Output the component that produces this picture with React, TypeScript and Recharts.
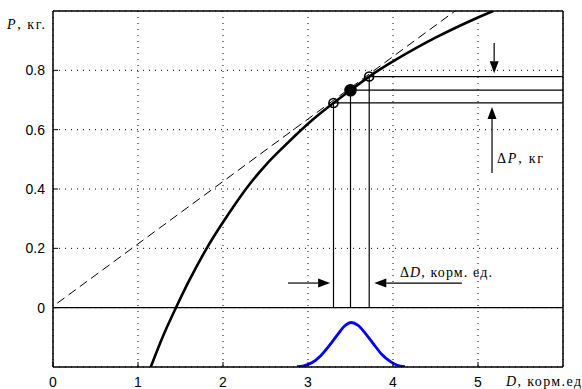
import React from 'react';
import { ComposedChart, Line, XAxis, YAxis, CartesianGrid, ReferenceLine, ReferenceDot } from 'recharts';

// Main productivity curve P(D)
const curveD = [1.15, 1.3, 1.447, 1.6, 1.808, 2.0, 2.27, 2.5, 2.67, 3.0, 3.3, 3.5, 3.72, 4.0, 4.5, 5.0, 5.18];
const curveP = [-0.2, -0.092, 0, 0.09, 0.2, 0.288, 0.4, 0.48, 0.53, 0.62, 0.69, 0.733, 0.779, 0.83, 0.91, 0.978, 1.0];

// Dashed straight line
const dashD = [0.05, 4.73];
const dashP = [0.015, 1.0];

// Blue distribution curve
const pdfD = [2.87, 2.95, 3.05, 3.15, 3.25, 3.35, 3.43, 3.51, 3.59, 3.67, 3.77, 3.87, 3.97, 4.05, 4.14];
const pdfP = [-0.199, -0.196, -0.185, -0.162, -0.128, -0.09, -0.062, -0.05, -0.06, -0.085, -0.122, -0.158, -0.182, -0.194, -0.199];

// Marked points
const markD = [3.3, 3.5, 3.72];
const markP = [0.69, 0.733, 0.779];
const markFilled = [false, true, false];

const xTicks = [0, 1, 2, 3, 4, 5];
const yTicks = [0, 0.2, 0.4, 0.6, 0.8];
const xDomain = [0, 6];
const yDomain = [-0.2, 1];

// Arrows: from (D,P) to (D,P)
const arrowFromD = [5.19, 5.165, 2.765, 4.81];
const arrowFromP = [0.892, 0.454, 0.083, 0.083];
const arrowToD = [5.19, 5.165, 3.26, 3.78];
const arrowToP = [0.79, 0.676, 0.083, 0.083];

const curveData = curveD.map((d, i) => ({ x: d, y: curveP[i] }));
const dashData = dashD.map((d, i) => ({ x: d, y: dashP[i] }));
const pdfData = pdfD.map((d, i) => ({ x: d, y: pdfP[i] }));

const SERIF = '"Liberation Serif", "DejaVu Serif", serif';
const SANS = '"Liberation Sans", Arial, sans-serif';

const Arrow = (props: any) => {
  const { x1, y1, x2, y2 } = props;
  const dx = x2 - x1, dy = y2 - y1;
  const len = Math.sqrt(dx * dx + dy * dy) || 1;
  const ux = dx / len, uy = dy / len;
  const hl = 12, hw = 4.5;
  const bx = x2 - ux * hl, by = y2 - uy * hl;
  const pts = `${x2},${y2} ${bx - uy * hw},${by + ux * hw} ${bx + uy * hw},${by - ux * hw}`;
  return (
    <g>
      <line x1={x1} y1={y1} x2={bx} y2={by} stroke="#000" strokeWidth={1.2} />
      <polygon points={pts} fill="#000" />
    </g>
  );
};

const yFmt = (v: number) => (v === 0 ? '0' : v.toFixed(1));

export default function App() {
  return (
    <div style={{ position: 'absolute', left: 0, top: 0, background: '#fff' }}>
      <ComposedChart width={582} height={389} margin={{ top: 10, right: 18, bottom: 0, left: 8 }}>
        <CartesianGrid stroke="#000" strokeDasharray="1 5" vertical={true} horizontal={true} />
        <XAxis
          xAxisId={0}
          dataKey="x"
          type="number"
          domain={xDomain}
          ticks={xTicks}
          allowDataOverflow
          height={22}
          tickSize={-5}
          tickMargin={15}
          stroke="#000"
          axisLine={{ stroke: '#000', strokeWidth: 1.5 }}
          tickLine={{ stroke: '#000' }}
          tick={{ fill: '#000', fontSize: 14, fontFamily: SANS }}
          label={{
            content: (p: any) => {
              const vb = p.viewBox;
              return (
                <text x={vb.x + vb.width - 57} y={vb.y + 19} fontFamily={SERIF} fontSize={14} fill="#000" textLength={75} lengthAdjust="spacing">
                  <tspan fontStyle="italic">D</tspan>, корм.ед
                </text>
              );
            },
          }}
        />
        <XAxis
          xAxisId="top"
          orientation="top"
          type="number"
          domain={xDomain}
          ticks={xTicks}
          allowDataOverflow
          height={1}
          tickSize={-5}
          tick={false}
          axisLine={{ stroke: '#000', strokeWidth: 1.5 }}
          tickLine={{ stroke: '#000' }}
        />
        <YAxis
          yAxisId={0}
          type="number"
          domain={yDomain}
          ticks={yTicks}
          allowDataOverflow
          width={45}
          tickSize={-5}
          tickMargin={13}
          tickFormatter={yFmt}
          axisLine={{ stroke: '#000', strokeWidth: 1.5 }}
          tickLine={{ stroke: '#000' }}
          tick={{ fill: '#000', fontSize: 14, fontFamily: SANS }}
          label={{
            content: (p: any) => {
              const vb = p.viewBox;
              return (
                <text x={vb.x + vb.width - 8} y={vb.y + 18} textAnchor="end" fontFamily={SERIF} fontSize={14} fill="#000" textLength={38} lengthAdjust="spacing">
                  <tspan fontStyle="italic">P</tspan>, кг.
                </text>
              );
            },
          }}
        />
        <YAxis
          yAxisId="right"
          orientation="right"
          type="number"
          domain={yDomain}
          ticks={yTicks}
          allowDataOverflow
          width={1}
          tickSize={-5}
          tick={false}
          axisLine={{ stroke: '#000', strokeWidth: 1.5 }}
          tickLine={{ stroke: '#000' }}
        />

        <ReferenceLine y={0} stroke="#000" strokeWidth={1.2} />

        {markD.map((d, i) => (
          <ReferenceLine key={'v' + i} segment={[{ x: d, y: markP[i] }, { x: d, y: 0 }]} stroke="#000" strokeWidth={1.2} />
        ))}
        {markD.map((d, i) => (
          <ReferenceLine key={'h' + i} segment={[{ x: d, y: markP[i] }, { x: xDomain[1], y: markP[i] }]} stroke="#000" strokeWidth={1.2} />
        ))}

        {arrowFromD.map((d, i) => (
          <ReferenceLine
            key={'a' + i}
            segment={[{ x: d, y: arrowFromP[i] }, { x: arrowToD[i], y: arrowToP[i] }]}
            shape={Arrow}
          />
        ))}

        <Line data={dashData} dataKey="y" type="linear" stroke="#000" strokeWidth={1} strokeDasharray="9 5" dot={false} isAnimationActive={false} />
        <Line data={curveData} dataKey="y" type="natural" stroke="#000" strokeWidth={2.6} dot={false} isAnimationActive={false} />
        <Line data={pdfData} dataKey="y" type="monotone" stroke="#0000ff" strokeWidth={2.8} dot={false} isAnimationActive={false} />

        {markD.map((d, i) => (
          <ReferenceDot
            key={'m' + i}
            x={d}
            y={markP[i]}
            r={markFilled[i] ? 5.5 : 4.5}
            fill={markFilled[i] ? '#000' : 'none'}
            stroke="#000"
            strokeWidth={1.6}
          />
        ))}

        <ReferenceDot
          x={5.224}
          y={0.488}
          r={0}
          shape={(p: any) => (
            <text x={p.cx} y={p.cy} fontFamily={SERIF} fontSize={14} fill="#000" textLength={46} lengthAdjust="spacing">
              Δ<tspan fontStyle="italic">P</tspan>, кг
            </text>
          )}
        />
        <ReferenceDot
          x={4.082}
          y={0.1045}
          r={0}
          shape={(p: any) => (
            <text x={p.cx} y={p.cy} fontFamily={SERIF} fontSize={14} fill="#000" textLength={92} lengthAdjust="spacing">
              Δ<tspan fontStyle="italic">D</tspan>, корм. ед.
            </text>
          )}
        />
      </ComposedChart>
    </div>
  );
}
